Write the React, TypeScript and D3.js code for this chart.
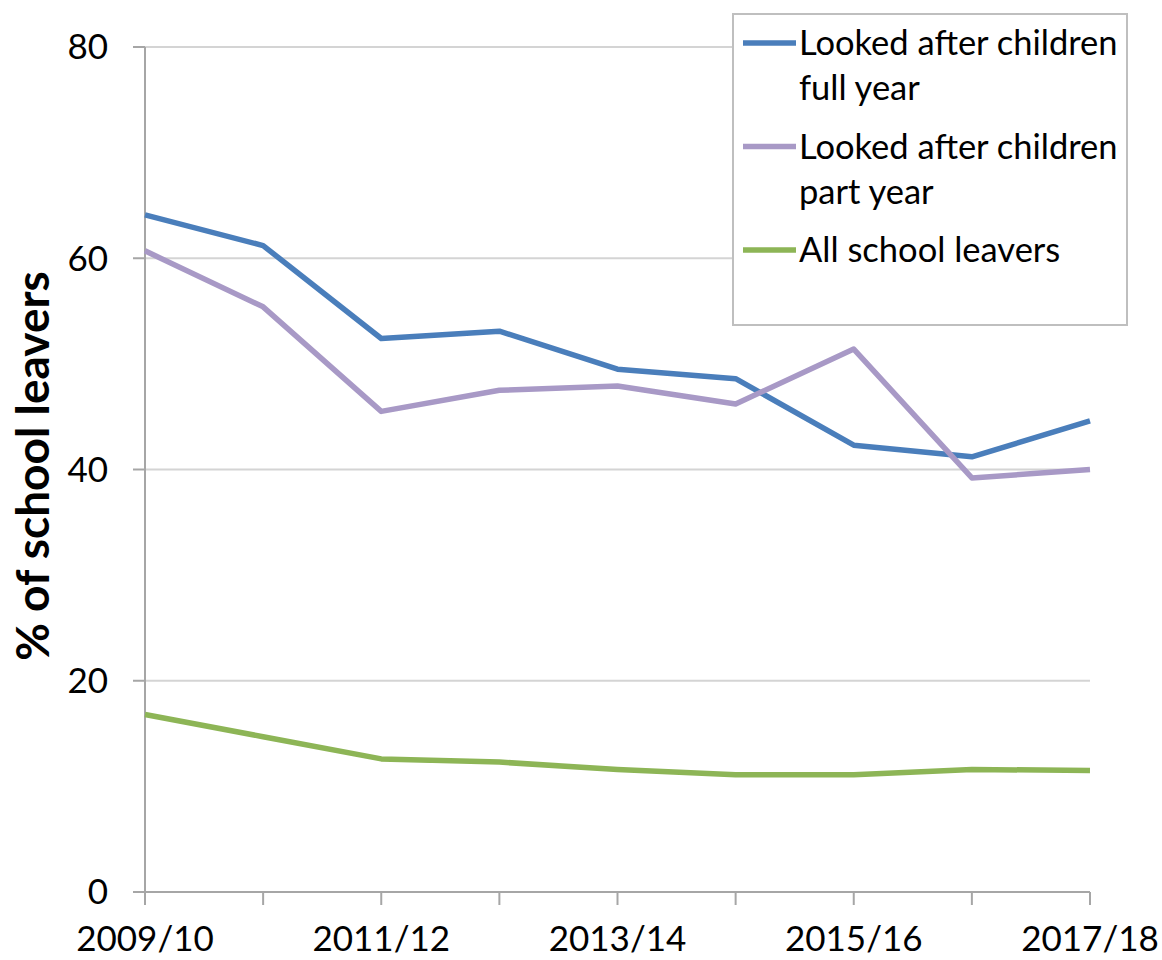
import React from "react";
import * as d3 from "d3";

const years = [
  "2009/10", "2010/11", "2011/12", "2012/13", "2013/14",
  "2014/15", "2015/16", "2016/17", "2017/18",
];
const labelledYears = ["2009/10", "2011/12", "2013/14", "2015/16", "2017/18"];
const fullYear = [64.1, 61.2, 52.4, 53.1, 49.5, 48.6, 42.3, 41.2, 44.6];
const partYear = [60.7, 55.4, 45.5, 47.5, 47.9, 46.2, 51.4, 39.2, 40.0];
const allLeavers = [16.8, 14.7, 12.6, 12.3, 11.6, 11.1, 11.1, 11.6, 11.5];
const yTicks = [0, 20, 40, 60, 80];

const series = [
  { name: ["Looked after children", "full year"], values: fullYear, color: "#4A7EBB" },
  { name: ["Looked after children", "part year"], values: partYear, color: "#A899C6" },
  { name: ["All school leavers"], values: allLeavers, color: "#8DB556" },
];

const width = 1162;
const height = 960;
const margin = { top: 47, right: 72, bottom: 68, left: 145 };
const font = "Lato, 'Open Sans', sans-serif";

export default function App() {
  const x = d3
    .scalePoint<string>()
    .domain(years)
    .range([margin.left, width - margin.right]);
  const y = d3
    .scaleLinear()
    .domain([0, 80])
    .range([height - margin.bottom, margin.top]);

  const line = d3
    .line<number>()
    .x((_, i) => x(years[i]) as number)
    .y((d) => y(d));

  const x0 = margin.left;
  const x1 = width - margin.right;
  const yBase = y(0);

  return (
    <svg
      width={width}
      height={height}
      style={{ position: "absolute", left: 0, top: 0, background: "#fff" }}
      fontFamily={font}
    >
      {/* gridlines */}
      {yTicks.filter((t) => t > 0).map((t) => (
        <g key={t}>
          <line x1={x0} x2={x1} y1={y(t)} y2={y(t)} stroke="#D4D4D4" strokeWidth={2} />
          <line x1={x0 - 12} x2={x0} y1={y(t)} y2={y(t)} stroke="#A6A6A6" strokeWidth={2} />
        </g>
      ))}
      {/* y labels */}
      {yTicks.map((t) => (
        <text key={t} x={108} y={y(t)} dy="0.35em" textAnchor="end" fontSize={35} fill="#000">
          {t}
        </text>
      ))}
      {/* axes */}
      <line x1={x0} x2={x0} y1={margin.top} y2={yBase} stroke="#A6A6A6" strokeWidth={2} />
      <line x1={x0 - 12} x2={x1} y1={yBase} y2={yBase} stroke="#A6A6A6" strokeWidth={2} />
      {years.map((yr) => (
        <line
          key={yr}
          x1={x(yr)}
          x2={x(yr)}
          y1={yBase}
          y2={yBase + 13}
          stroke="#A6A6A6"
          strokeWidth={2}
        />
      ))}
      {labelledYears.map((yr) => (
        <text key={yr} x={x(yr)} y={951} textAnchor="middle" fontSize={35} fill="#000">
          {yr}
        </text>
      ))}
      {/* axis title */}
      <text
        transform="translate(49,466) rotate(-90)"
        textAnchor="middle"
        fontSize={46}
        fontWeight="bold"
        fill="#000"
      >
        % of school leavers
      </text>
      {/* lines */}
      {series.map((s) => (
        <path
          key={s.name.join(" ")}
          d={line(s.values) ?? ""}
          fill="none"
          stroke={s.color}
          strokeWidth={5.5}
          strokeLinejoin="round"
        />
      ))}
      {/* legend */}
      <rect x={733} y={14} width={394} height={311} fill="#fff" stroke="#BFBFBF" strokeWidth={2} />
      {series.map((s, i) => {
        const ly = 43 + i * 103.5;
        return (
          <g key={i}>
            <line x1={743} x2={796} y1={ly} y2={ly} stroke={s.color} strokeWidth={5.5} />
            {s.name.map((n, j) => (
              <text key={j} x={799} y={ly + j * 45} dy="0.35em" fontSize={34.5} fill="#000">
                {n}
              </text>
            ))}
          </g>
        );
      })}
    </svg>
  );
}
